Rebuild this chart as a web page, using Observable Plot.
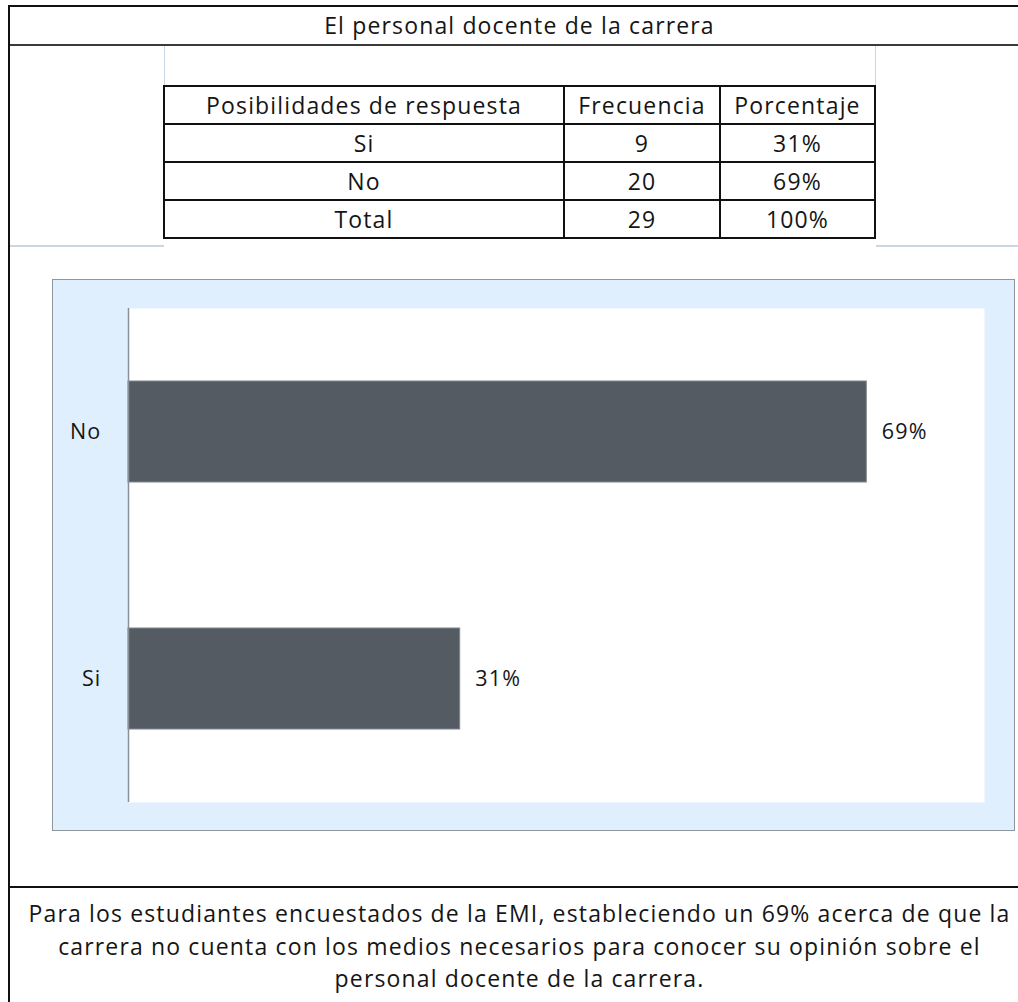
<!DOCTYPE html>
<html>
<head>
<meta charset="utf-8">
<script src="https://cdn.jsdelivr.net/npm/d3@7"></script>
<script src="https://cdn.jsdelivr.net/npm/@observablehq/plot@0.6"></script>
<style>
  html, body { margin: 0; padding: 0; background: #fff; }
  #page { position: relative; width: 1018px; height: 1002px; overflow: hidden; background: #fff;
          font-family: "Open Sans", sans-serif; color: #151515; }
  .ln { position: absolute; }
  .txt { position: absolute; text-align: center; white-space: nowrap; font-size: 23px; letter-spacing: 1.15px; }
  #tbl { position: absolute; left: 163px; top: 85px; border-collapse: collapse; table-layout: fixed;
         font-size: 23px; letter-spacing: 1.15px; }
  #tbl td { border: 2px solid #111; height: 36px; padding: 0; text-align: center; vertical-align: middle; line-height: 36px; }
  #frame { position: absolute; left: 52px; top: 279px; width: 963px; height: 552px; box-sizing: border-box;
           background: #e0effd; border: 1px solid #8e959c; }
  #frame svg { position: absolute; left: 0; top: 0; }
</style>
</head>
<body>
<div id="page">
  <div class="ln" style="left:8px;top:5px;width:1010px;height:2px;background:#111"></div>
  <div class="ln" style="left:8px;top:5px;width:2px;height:997px;background:#111"></div>
  <div class="ln" style="left:10px;top:44px;width:1008px;height:2px;background:#3a3a3a"></div>
  <div class="ln" style="left:164px;top:46px;width:1px;height:40px;background:#c9d6e4"></div>
  <div class="ln" style="left:875px;top:46px;width:1px;height:40px;background:#c9d6e4"></div>
  <div class="ln" style="left:10px;top:245px;width:154px;height:2px;background:#c9d6e4"></div>
  <div class="ln" style="left:876px;top:245px;width:142px;height:2px;background:#c9d6e4"></div>
  <div class="ln" style="left:10px;top:886px;width:1008px;height:2px;background:#111"></div>
  <div id="title" class="txt" style="left:9px;top:7px;width:1021px;height:37px;line-height:37px;"></div>
  <table id="tbl"></table>
  <div id="frame"></div>
  <div id="note" class="txt" style="left:9px;top:897px;width:1021px;line-height:32.5px;"></div>
</div>
<script>
const titleText = "El personal docente de la carrera";
const headers = ["Posibilidades de respuesta", "Frecuencia", "Porcentaje"];
const categories = ["Si", "No"];
const frequencies = [9, 20];
const percentages = [31, 69];
const totalLabel = "Total";
const totalFrequency = 29;
const totalPercentage = 100;
const noteLines = [
  "Para los estudiantes encuestados de la EMI, estableciendo un 69% acerca de que la",
  "carrera no cuenta con los medios necesarios para conocer su opinión sobre el",
  "personal docente de la carrera."
];

document.getElementById("title").textContent = titleText;

// table
const tbl = document.getElementById("tbl");
const colWidths = [400, 156, 155];
const rows = [headers]
  .concat(categories.map((c, i) => [c, String(frequencies[i]), percentages[i] + "%"]))
  .concat([[totalLabel, String(totalFrequency), totalPercentage + "%"]]);
rows.forEach(r => {
  const tr = document.createElement("tr");
  r.forEach((v, j) => {
    const td = document.createElement("td");
    td.style.width = (colWidths[j] - 2) + "px";
    td.textContent = v;
    tr.appendChild(td);
  });
  tbl.appendChild(tr);
});

// note
const note = document.getElementById("note");
noteLines.forEach((l, i) => {
  if (i) note.appendChild(document.createElement("br"));
  note.appendChild(document.createTextNode(l));
});

// chart
const data = categories.map((c, i) => ({resp: c, pct: percentages[i]}));
const chart = Plot.plot({
  width: 961,
  height: 550,
  marginLeft: 75,
  marginRight: 30,
  marginTop: 28,
  marginBottom: 28,
  style: {background: "transparent", fontFamily: "Open Sans", fontSize: "21.5px", letterSpacing: "1.2px", color: "#151515", overflow: "visible"},
  x: {domain: [0, 80], axis: null},
  y: {domain: ["No", "Si"], paddingInner: 0.59, paddingOuter: 0.295, tickSize: 0, tickPadding: 27, label: null},
  marks: [
    Plot.frame({fill: "white", stroke: "none"}),
    Plot.barX(data, {x: "pct", y: "resp", fill: "#555b62", stroke: "#80868c", strokeWidth: 1}),
    Plot.ruleX([0], {stroke: "#8a9097", strokeWidth: 1.5}),
    Plot.text(data, {x: "pct", y: "resp", text: d => d.pct + "%", textAnchor: "start", dx: 15, fill: "#151515", fontSize: 21.5})
  ]
});
document.getElementById("frame").appendChild(chart);
</script>
</body>
</html>
